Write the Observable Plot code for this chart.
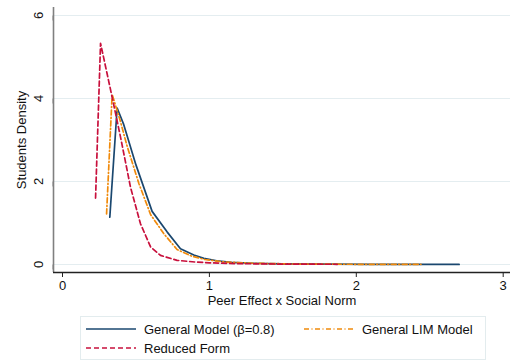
<!DOCTYPE html>
<html>
<head>
<meta charset="utf-8">
<script src="https://cdn.jsdelivr.net/npm/d3@7"></script>
<script src="https://cdn.jsdelivr.net/npm/@observablehq/plot@0.6"></script>
<style>
  body { margin: 0; background: #fff; font-family: "Liberation Sans", Arial, sans-serif; }
  #wrap { position: relative; width: 511px; height: 362px; }
  #legend { position: absolute; left: 80px; top: 316px; width: 406px; height: 44px;
            border: 1px solid #e3ecee; box-sizing: border-box; font-size: 13px; color: #111; }
  .item { position: absolute; display: flex; align-items: center; height: 16px; }
  .item svg { margin-right: 8px; }
</style>
</head>
<body>
<div id="wrap">
  <div id="chart"></div>
  <div id="legend"></div>
</div>
<script>
// Density of students over peer effect x social norm, three model variants
const generalX = [0.322, 0.372, 0.417, 0.5, 0.61, 0.713, 0.803, 0.894, 0.962, 1.05, 1.15, 1.3, 1.5, 1.8, 2.1, 2.4, 2.7];
const generalY = [1.14, 3.77, 3.37, 2.4, 1.28, 0.78, 0.38, 0.23, 0.15, 0.09, 0.05, 0.03, 0.015, 0.01, 0.005, 0.003, 0.002];

const limX = [0.30, 0.338, 0.39, 0.44, 0.52, 0.6, 0.69, 0.78, 0.88, 0.97, 1.1, 1.3, 1.6, 2.0, 2.44];
const limY = [1.22, 4.10, 3.5, 2.85, 1.95, 1.2, 0.74, 0.36, 0.2, 0.12, 0.06, 0.03, 0.01, 0.005, 0.003];

const reducedX = [0.225, 0.259, 0.338, 0.395, 0.463, 0.531, 0.6, 0.667, 0.78, 0.9, 1.0, 1.2, 1.5, 1.87];
const reducedY = [1.6, 5.33, 4.03, 3.07, 1.86, 0.98, 0.42, 0.22, 0.10, 0.06, 0.04, 0.02, 0.01, 0.005];

const xTicks = [0, 1, 2, 3];
const yTicks = [0, 2, 4, 6];

const seriesNames = ["General Model (\u03b2=0.8)", "General LIM Model", "Reduced Form"];
const seriesColors = ["#1a476f", "#f08a0b", "#c8103c"];
const seriesDash = [null, "5,2.5,1,2.5", "5,3"];
const seriesWidth = [1.7, 1.7, 1.7];

const toRows = (xs, ys) => xs.map((x, i) => ({x, y: ys[i]}));
const series = [toRows(generalX, generalY), toRows(limX, limY), toRows(reducedX, reducedY)];

const xDomain = [-0.0613, 3.0497];
const yDomain = [-0.193, 6.193];

const chart = Plot.plot({
  width: 511,
  height: 312,
  marginLeft: 53,
  marginRight: 1,
  marginTop: 7,
  marginBottom: 40,
  style: {fontFamily: "Liberation Sans, Arial, sans-serif", fontSize: "13px", color: "#111", background: "#fff"},
  x: {domain: xDomain},
  y: {domain: yDomain},
  marks: [
    Plot.gridY(yTicks, {stroke: "#e4edf0", strokeOpacity: 1, strokeWidth: 1.2}),
    Plot.ruleX([xDomain[0]], {stroke: "#808080", strokeWidth: 1.6}),
    Plot.ruleY([yDomain[0]], {stroke: "#222", strokeWidth: 1.3}),
    Plot.axisY({ticks: yTicks, tickFormat: d3.format("d"), tickSize: 5, tickPadding: 10, rotate: -90, textAnchor: "middle",
                stroke: "#808080", fontSize: 13,
                label: "Students Density", labelAnchor: "center", labelOffset: 37, labelArrow: false}),
    Plot.axisX({ticks: xTicks, tickFormat: d3.format("d"), tickSize: 5, tickPadding: 3, stroke: "#222", fontSize: 13,
                label: "Peer Effect x Social Norm", labelAnchor: "center", labelOffset: 32, labelArrow: false}),
    ...series.map((rows, i) => Plot.line(rows, {
      x: "x", y: "y", stroke: seriesColors[i], strokeWidth: seriesWidth[i],
      strokeDasharray: seriesDash[i], strokeLinejoin: "round"
    }))
  ]
});
document.getElementById("chart").appendChild(chart);

// Legend laid out in two columns
const legend = document.getElementById("legend");
const positions = [[5, 4], [223, 4], [5, 23]];
seriesNames.forEach((name, i) => {
  const div = document.createElement("div");
  div.className = "item";
  div.style.left = positions[i][0] + "px";
  div.style.top = positions[i][1] + "px";
  const sw = d3.create("svg").attr("width", 50).attr("height", 6);
  sw.append("line").attr("x1", 0).attr("x2", 50).attr("y1", 3).attr("y2", 3)
    .attr("stroke", seriesColors[i]).attr("stroke-width", seriesWidth[i])
    .attr("stroke-dasharray", seriesDash[i]);
  div.appendChild(sw.node());
  const span = document.createElement("span");
  span.textContent = name;
  div.appendChild(span);
  legend.appendChild(div);
});
</script>
</body>
</html>
